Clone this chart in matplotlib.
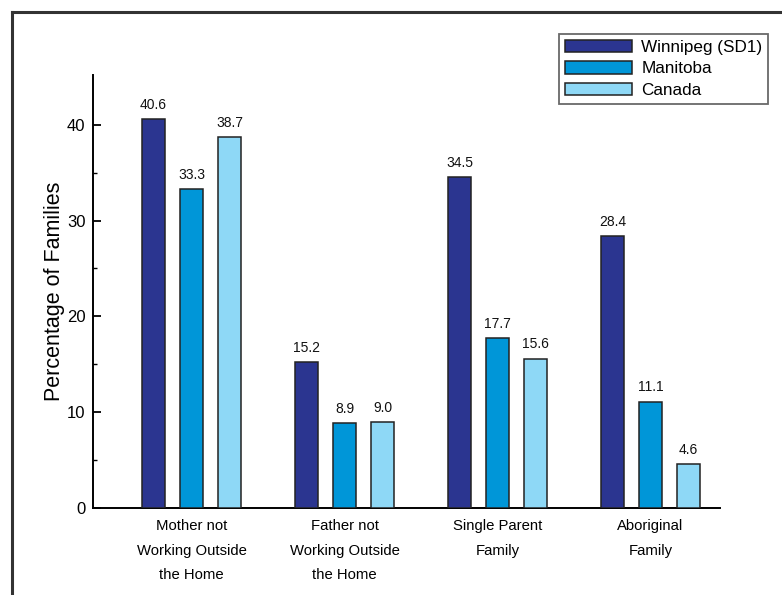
import matplotlib
matplotlib.use("Agg")
import matplotlib.pyplot as plt
import numpy as np

categories = ["Mother not\nWorking Outside\nthe Home", "Father not\nWorking Outside\nthe Home",
              "Single Parent\nFamily", "Aboriginal\nFamily"]
series_names = ["Winnipeg (SD1)", "Manitoba", "Canada"]
winnipeg = [40.6, 15.2, 34.5, 28.4]
manitoba = [33.3, 8.9, 17.7, 11.1]
canada = [38.7, 9.0, 15.6, 4.6]
colors = ["#2B3590", "#0096D8", "#8ED8F6"]

plt.rcParams["font.family"] = ["Liberation Sans", "DejaVu Sans"]

fig = plt.figure(figsize=(7.82, 5.95), dpi=100)
ax = fig.add_axes([0.1189, 0.1462, 0.8018, 0.7278])

x = np.arange(len(categories))
width = 0.15
offset = 0.248
for i, (vals, col) in enumerate(zip([winnipeg, manitoba, canada], colors)):
    pos = x + (i - 1) * offset
    bars = ax.bar(pos, vals, width, color=col, edgecolor="#222222", linewidth=1.1,
                  label=series_names[i], zorder=3)
    for b, v in zip(bars, vals):
        ax.text(b.get_x() + b.get_width() / 2, v + 0.75, f"{v:.1f}", ha="center",
                va="bottom", fontsize=10, color="#111111")

ax.set_xlim(-0.644, 3.454)
ax.set_ylim(0, 45.2)
ax.set_yticks([0, 10, 20, 30, 40])
ax.set_yticks([5, 15, 25, 35], minor=True)
ax.tick_params(axis="y", which="major", direction="in", length=6, width=1.3, labelsize=12, pad=5.5)
ax.tick_params(axis="y", which="minor", direction="in", length=3, width=1.0)
ax.set_xticks(x)
ax.set_xticklabels(categories, fontsize=10.7, linespacing=1.95)
ax.tick_params(axis="x", length=0, pad=8)
for s in ["top", "right"]:
    ax.spines[s].set_visible(False)
ax.spines["left"].set_linewidth(1.4)
ax.spines["bottom"].set_linewidth(1.4)
ax.set_ylabel("Percentage of Families", fontsize=15.5, labelpad=1)

leg = ax.legend(loc="upper right", bbox_to_anchor=(1.077, 1.095), frameon=True, fancybox=False,
                fontsize=12.3, handlelength=3.9, handleheight=0.75, labelspacing=0.36,
                borderpad=0.35, handletextpad=0.55, borderaxespad=0)
leg.get_frame().set_edgecolor("#444444")
leg.get_frame().set_linewidth(1.3)

# outer frame lines along the top and left edges
fig.add_artist(plt.Line2D([12 / 782, 12 / 782], [0, 1 - 12 / 595], transform=fig.transFigure,
                          color="#333333", linewidth=2.2))
fig.add_artist(plt.Line2D([12 / 782, 1], [1 - 12 / 595, 1 - 12 / 595], transform=fig.transFigure,
                          color="#333333", linewidth=2.2))

fig.savefig("out.png", dpi=100)
